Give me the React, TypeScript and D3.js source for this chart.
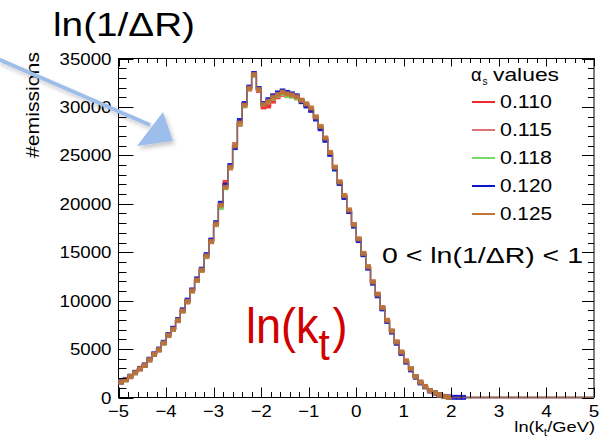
import React from 'react';
import * as d3 from 'd3';

// Histogram binning (100 bins of 0.1 from -5 to 5)
const BIN_LOW = -5;
const BIN_WIDTH = 0.1;

const alphaLabels = ['0.110', '0.115', '0.118', '0.120', '0.125'];
const seriesColors = ['#f02828', '#dc7474', '#78d868', '#0a14d2', '#c27535'];

const counts110 = [
  1580, 1850, 2150, 2580, 2940, 3340, 3880, 4470, 4900, 5660,
  6390, 7080, 7930, 8990, 9870, 11060, 12080, 13200, 14550, 16150,
  17850, 19700, 22200, 23700, 26100, 28200, 30250, 31850, 33300, 31700,
  30000, 30100, 30600, 31050, 31300, 31200, 31150, 31000, 30550, 30200,
  29700, 28900, 27800, 26700, 25200, 23650, 22150, 20750, 19200, 17800,
  16300, 14800, 13450, 11900, 10600, 9250, 7950, 6820, 5700, 4650,
  3740, 2950, 2160, 1570, 1130, 710, 480, 270, 110, 30,
  0, 0, 0, 0, 0, 0, 0, 0, 0, 0,
  0, 0, 0, 0, 0, 0, 0, 0, 0, 0,
  0, 0, 0, 0, 0, 0, 0, 0, 0, 0,
];
const counts115 = [
  1610, 1840, 2160, 2560, 2980, 3300, 3910, 4440, 4960, 5620,
  6430, 7030, 7990, 8930, 9930, 11000, 12140, 13130, 14620, 16080,
  17920, 19820, 21800, 23800, 26000, 28300, 30200, 31950, 33400, 31750,
  30300, 30500, 31000, 31300, 31450, 31300, 31280, 31000, 30700, 30250,
  29850, 28950, 27950, 26750, 25280, 23760, 22240, 20820, 19330, 17840,
  16360, 14860, 13480, 11920, 10650, 9280, 7960, 6860, 5720, 4680,
  3750, 2960, 2170, 1580, 1140, 720, 490, 280, 100, 30,
  0, 0, 0, 0, 0, 0, 0, 0, 0, 0,
  0, 0, 0, 0, 0, 0, 0, 0, 0, 0,
  0, 0, 0, 0, 0, 0, 0, 0, 0, 0,
];
const counts118 = [
  1590, 1820, 2180, 2540, 2960, 3320, 3890, 4460, 4930, 5640,
  6410, 7050, 7960, 8960, 9890, 11020, 12100, 13160, 14580, 16120,
  17880, 19600, 21650, 23750, 25950, 28250, 30100, 31900, 33250, 31850,
  30300, 30600, 30900, 31200, 31400, 31150, 31100, 30900, 30650, 30300,
  29800, 28900, 27900, 26650, 25150, 23600, 22100, 20700, 19250, 17700,
  16250, 14750, 13400, 11850, 10600, 9200, 7900, 6800, 5650, 4650,
  3700, 2950, 2150, 1560, 1120, 700, 480, 270, 90, 20,
  0, 0, 0, 0, 0, 0, 0, 0, 0, 0,
  0, 0, 0, 0, 0, 0, 0, 0, 0, 0,
  0, 0, 0, 0, 0, 0, 0, 0, 0, 0,
];
const counts120 = [
  1620, 1870, 2200, 2600, 3010, 3350, 3950, 4500, 5000, 5700,
  6500, 7150, 8050, 9050, 10050, 11100, 12250, 13250, 14750, 16250,
  18050, 20050, 21900, 23950, 25800, 28600, 30350, 32050, 33450, 31900,
  30350, 30750, 31150, 31450, 31650, 31500, 31350, 31150, 30550, 30100,
  29650, 28750, 27750, 26550, 25100, 23600, 22100, 20650, 19200, 17700,
  16200, 14750, 13350, 11800, 10500, 9150, 7850, 6750, 5600, 4550,
  3650, 2850, 2100, 1500, 1100, 680, 460, 260, 110, 50,
  20, 15, 10, 0, 0, 0, 0, 0, 0, 0,
  0, 0, 0, 0, 0, 0, 0, 0, 0, 0,
  0, 0, 0, 0, 0, 0, 0, 0, 0, 0,
];
const counts125 = [
  1600, 1830, 2170, 2550, 2970, 3310, 3900, 4450, 4940, 5630,
  6420, 7040, 7970, 8940, 9910, 11010, 12120, 13150, 14600, 16100,
  17900, 19850, 21700, 23780, 25990, 28340, 30170, 31920, 33340, 31790,
  30240, 30580, 30990, 31270, 31510, 31340, 31240, 31030, 30680, 30310,
  29890, 28960, 27990, 26790, 25300, 23780, 22260, 20850, 19360, 17850,
  16380, 14880, 13490, 11940, 10670, 9290, 7970, 6870, 5730, 4690,
  3760, 2970, 2170, 1580, 1140, 720, 490, 280, 100, 30,
  0, 0, 0, 0, 0, 0, 0, 0, 0, 0,
  0, 0, 0, 0, 0, 0, 0, 0, 0, 0,
  0, 0, 0, 0, 0, 0, 0, 0, 0, 0,
];

const xTickValues = [-5, -4, -3, -2, -1, 0, 1, 2, 3, 4, 5];
const yTickValues = [0, 5000, 10000, 15000, 20000, 25000, 30000, 35000];

const FONT = "'Liberation Sans', Arial, Helvetica, sans-serif";

export default function App() {
  const W = 605;
  const H = 442;
  const L = 118.5, R = 594, T = 58.5, B = 397.5;
  const x = d3.scaleLinear().domain([-5, 5]).range([L, R]);
  const y = d3.scaleLinear().domain([0, 35000]).range([B, T]);

  const series = [counts110, counts115, counts118, counts120, counts125];
  const line = d3.line<[number, number]>().x((d) => x(d[0])).y((d) => y(d[1]));
  const stepPoints = (vals: number[]) =>
    vals.flatMap((v, i) => [
      [BIN_LOW + i * BIN_WIDTH, v] as [number, number],
      [BIN_LOW + (i + 1) * BIN_WIDTH, v] as [number, number],
    ]);

  const xMinor = d3.range(-5, 5.0001, 0.2);
  const yMinor = d3.range(0, 35001, 1000);
  const isMajorX = (v: number) => Math.abs(v - Math.round(v)) < 1e-6;
  const isMajorY = (v: number) => v % 5000 === 0;

  const legendY = [102, 130, 158, 186, 214];
  const mw = 5.6, mh = 5;

  return (
    <svg width={W} height={H} style={{ position: 'absolute', left: 0, top: 0, background: '#fff' }} fontFamily={FONT}>
      <defs>
        <filter id="arrowShadow" x="-20%" y="-20%" width="140%" height="160%">
          <feDropShadow dx="2" dy="3" stdDeviation="2" floodColor="#000" floodOpacity="0.22" />
        </filter>
        <clipPath id="plotClip">
          <rect x={L} y={T - 10} width={R - L} height={B - T + 13} />
        </clipPath>
      </defs>
      <rect x={0} y={0} width={W} height={H} fill="#fff" />

      {/* frame */}
      <rect x={L} y={T} width={R - L} height={B - T} fill="none" stroke="#000" strokeWidth={1} />

      {/* histograms */}
      <g clipPath="url(#plotClip)">
        {series.map((vals, si) => (
          <g key={si}>
            <path d={line(stepPoints(vals)) || ''} fill="none" stroke={seriesColors[si]} strokeWidth={1.4} strokeOpacity={0.7} />
            {vals.map((v, i) =>
              v > 0 ? (
                <rect
                  key={i}
                  x={x(BIN_LOW + (i + 0.5) * BIN_WIDTH) - mw / 2}
                  y={y(v) - mh / 2}
                  width={mw}
                  height={mh}
                  fill={seriesColors[si]}
                  fillOpacity={0.92}
                />
              ) : null
            )}
          </g>
        ))}
      </g>

      {/* x ticks bottom & top */}
      {xMinor.map((v, i) => {
        const major = isMajorX(v);
        const xx = Math.round(x(v)) + 0.5;
        return (
          <g key={'xt' + i} stroke="#000" strokeWidth={1}>
            <line x1={xx} x2={xx} y1={B} y2={B - (major ? 10 : 5.5)} />
            <line x1={xx} x2={xx} y1={T} y2={T + (major ? 8 : 4.5)} />
          </g>
        );
      })}
      {/* y ticks left & right */}
      {yMinor.map((v, i) => {
        const major = isMajorY(v);
        const yy = Math.round(y(v)) + 0.5;
        return (
          <g key={'yt' + i} stroke="#000" strokeWidth={1}>
            <line x1={L} x2={L + (major ? 15 : 8)} y1={yy} y2={yy} />
            <line x1={R} x2={R - (major ? 12 : 6)} y1={yy} y2={yy} />
          </g>
        );
      })}

      {/* x tick labels */}
      {xTickValues.map((v) => {
        const label = v < 0 ? '\u2212' + Math.abs(v) : String(v);
        return (
          <text key={'xl' + v} x={x(v)} y={417} fontSize={17} textAnchor="middle"
            textLength={label.length * 10.5} lengthAdjust="spacingAndGlyphs">
            {label}
          </text>
        );
      })}
      {/* y tick labels */}
      {yTickValues.map((v) => {
        const label = String(v);
        return (
          <text key={'yl' + v} x={111.5} y={y(v) + 6} fontSize={17} textAnchor="end"
            textLength={label.length * 10.4} lengthAdjust="spacingAndGlyphs">
            {label}
          </text>
        );
      })}

      {/* axis titles */}
      <text transform="translate(39,52) rotate(-90)" fontSize={18} textAnchor="end"
        textLength={106} lengthAdjust="spacingAndGlyphs">#emissions</text>
      <g transform="translate(595,432) scale(1.22,1)">
        <text x={0} y={0} fontSize={15} textAnchor="end">
          ln(k<tspan fontSize={10} dy={3.5}>t</tspan><tspan dy={-3.5}>/GeV)</tspan>
        </text>
      </g>

      {/* title */}
      <text x={53} y={36} fontSize={32.5} textLength={142} lengthAdjust="spacingAndGlyphs">ln(1/ΔR)</text>

      {/* legend */}
      <text x={471} y={80.5} fontSize={18.5}>α</text>
      <text x={482.5} y={84.5} fontSize={10}>s</text>
      <text x={493} y={80.5} fontSize={18.5} textLength={66} lengthAdjust="spacingAndGlyphs">values</text>
      {alphaLabels.map((lab, i) => (
        <g key={lab}>
          <line x1={472} x2={495} y1={legendY[i]} y2={legendY[i]} stroke={seriesColors[i]} strokeWidth={2} />
          <text x={500} y={legendY[i] + 6.3} fontSize={17.5} textLength={52} lengthAdjust="spacingAndGlyphs">{lab}</text>
        </g>
      ))}

      {/* annotation */}
      <text x={382} y={263} fontSize={22} textLength={201} lengthAdjust="spacingAndGlyphs">0 &lt; ln(1/ΔR) &lt; 1</text>

      {/* red label */}
      <g transform="translate(246,343) scale(0.9,1)" fill="#d10000">
        <text x={0} y={0} fontSize={50}>
          ln(k<tspan fontSize={45} dy={17}>t</tspan><tspan fontSize={50} dy={-17} dx={3}>)</tspan>
        </text>
      </g>

      {/* arrow */}
      <g filter="url(#arrowShadow)">
        <line x1={-2} y1={59} x2={150} y2={125} stroke="#9dbdea" strokeWidth={4} />
        <polygon points="163,112 137,146 173,141" fill="#9dbdea" />
      </g>
    </svg>
  );
}
